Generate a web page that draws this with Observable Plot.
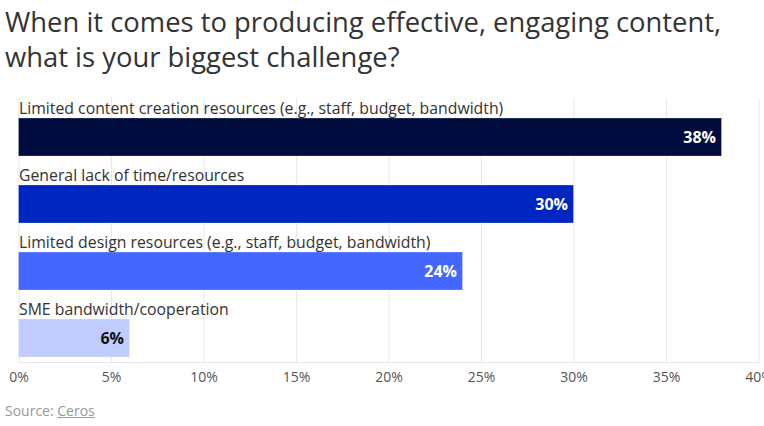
<!DOCTYPE html>
<html><head><meta charset="utf-8">
<script src="https://cdn.jsdelivr.net/npm/d3@7"></script>
<script src="https://cdn.jsdelivr.net/npm/@observablehq/plot@0.6"></script>
<style>
html,body{margin:0;padding:0;background:#fff;}
body{width:764px;height:426px;overflow:hidden;position:relative;font-family:"Open Sans","Noto Sans",sans-serif;}
#title{position:absolute;left:5px;top:4px;font-size:27.4px;line-height:35px;color:#333;font-weight:400;white-space:nowrap;}
#chart{position:absolute;left:0;top:88px;}
#source{position:absolute;left:5px;top:401px;font-size:14px;color:#999;}
#source a{color:#999;text-decoration:underline;}
</style></head>
<body>
<div id="title">When it comes to producing effective, engaging content,<br>what is your biggest challenge?</div>
<div id="chart"></div>
<div id="source">Source: <a>Ceros</a></div>
<script>
const categories = [
  "Limited content creation resources (e.g., staff, budget, bandwidth)",
  "General lack of time/resources",
  "Limited design resources (e.g., staff, budget, bandwidth)",
  "SME bandwidth/cooperation"
];
const values = [38, 30, 24, 6];
const xTicks = [0, 5, 10, 15, 20, 25, 30, 35, 40];
const barColors = ["#000c3e", "#0026c2", "#4467ff", "#c0cbff"];
const labelColors = ["#ffffff", "#ffffff", "#ffffff", "#111111"];

const data = categories.map((c, i) => ({category: c, value: values[i], i}));

const chart = Plot.plot({
  width: 764,
  height: 304,
  marginLeft: 18.5,
  marginRight: 5.5,
  marginTop: 10,
  marginBottom: 30,
  style: {fontFamily: "'Open Sans', 'Noto Sans', sans-serif", background: "white", overflow: "hidden"},
  x: {domain: [0, 40], label: null},
  y: {domain: categories, range: [29, 269], paddingInner: 0.4356, paddingOuter: 0, axis: null},
  color: {type: "identity"},
  marks: [
    Plot.gridX(xTicks, {stroke: "#e8e8e8", strokeOpacity: 1}),
    Plot.frame({anchor: "bottom", stroke: "#e6e6e6"}),
    Plot.barX(data, {x: "value", y: "category", fill: d => barColors[d.i], stroke: "white", strokeOpacity: 0.25}),
    Plot.text(data, {x: 0, y: "category", text: "category", textAnchor: "start", dy: -28.5, fontSize: 15.8, fill: "#333"}),
    Plot.text(data, {x: "value", y: "category", text: d => d.value + "%", textAnchor: "end", dx: -6, fill: d => labelColors[d.i], fontWeight: 700, fontSize: 16}),
    Plot.axisX({ticks: xTicks, tickFormat: d => d + "%", tickSize: 0, tickPadding: 10, fontSize: 14, color: "#555", label: null})
  ]
});
document.getElementById("chart").appendChild(chart);
</script>
</body></html>
